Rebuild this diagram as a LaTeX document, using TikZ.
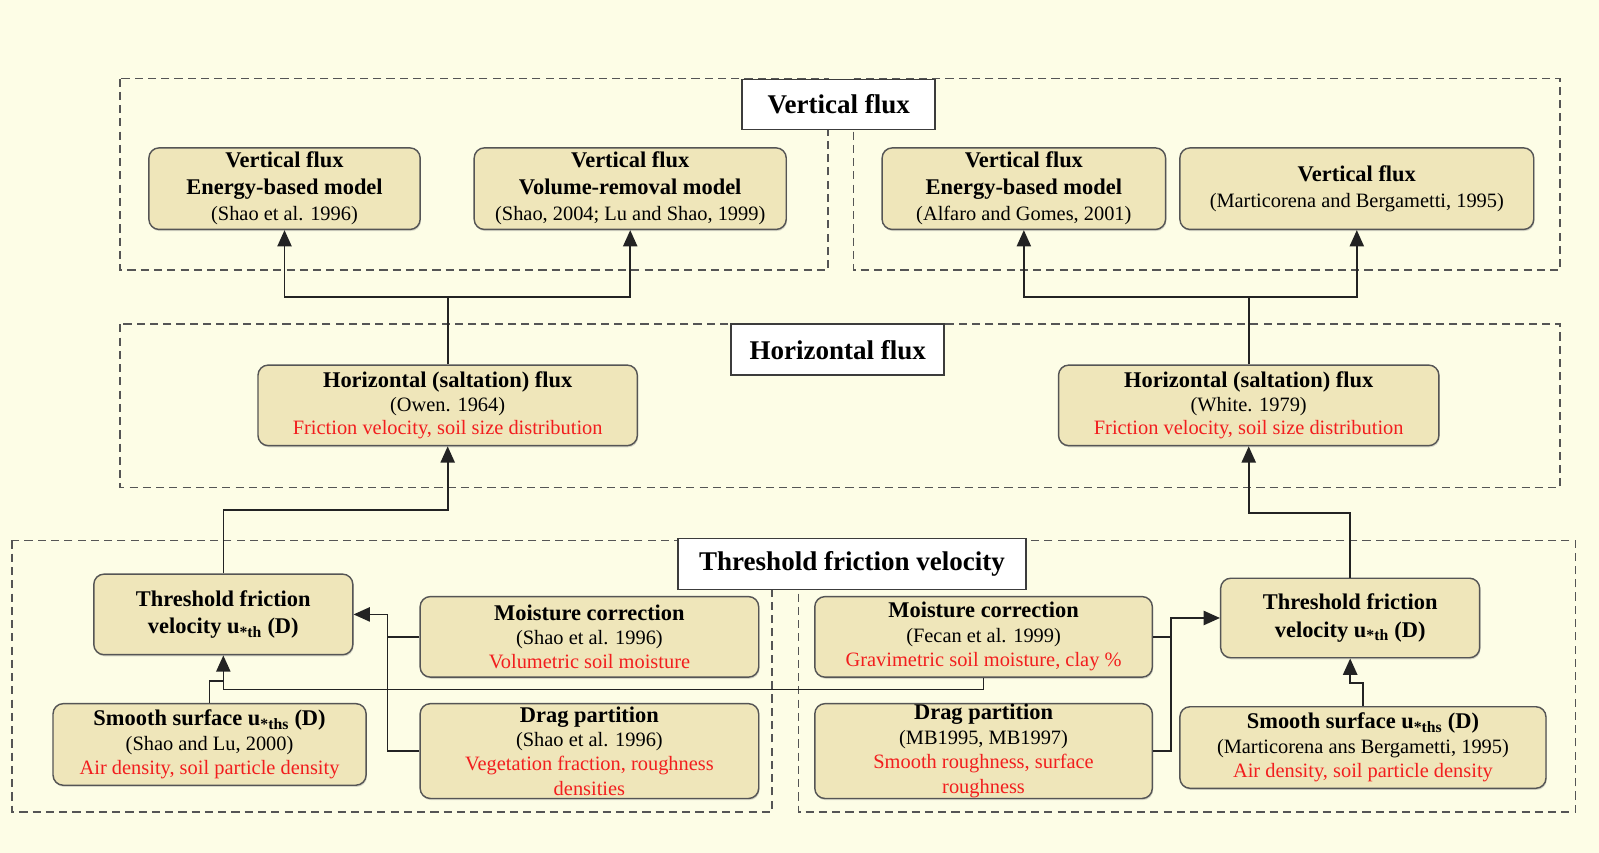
\documentclass[tikz,border=0pt]{standalone}
\usepackage{fontspec}
\setmainfont{Liberation Serif}
\usetikzlibrary{arrows.meta,shadows}

\definecolor{paper}{RGB}{253,253,230}
\definecolor{cardfill}{RGB}{239,230,186}
\definecolor{cardedge}{RGB}{85,85,85}
\definecolor{titleedge}{RGB}{60,60,60}
\definecolor{framecol}{RGB}{85,85,85}
\definecolor{linkcol}{RGB}{35,35,35}
\definecolor{notecol}{RGB}{242,30,30}

% bold heading line and red parameter line inside a card
\newcommand\hdline[1]{{\fontsize{22}{25}\selectfont\bfseries #1}}
\newcommand\noteline[1]{{\color{notecol}#1}}

\begin{document}
\begin{tikzpicture}[x=1pt,y=-1pt,
  frame/.style={draw=framecol, line width=1.8pt, dash pattern=on 8pt off 5pt},
  title/.style={draw=titleedge, fill=white, line width=1.8pt, inner sep=0pt,
    font=\fontsize{26.5}{30}\selectfont\bfseries},
  card/.style={draw=cardedge, fill=cardfill, line width=1.4pt, rounded corners=10pt,
    inner sep=0pt, align=center,
    drop shadow={shadow xshift=0.8pt, shadow yshift=-1.6pt, opacity=0.3}},
  link/.style={draw=linkcol, line width=1.6pt},
  arr/.style={link, -{Triangle[width=14pt,length=16pt]}},
]
% canvas
\fill[paper] (0,0) rectangle (1568,836);
\useasboundingbox (0,0) rectangle (1568,836);

% dashed group frames
\draw[frame] (118,77) rectangle (812,265);
\draw[frame] (837,77) rectangle (1530,265);
\draw[frame] (118,318) rectangle (1530,478);
\draw[frame] (12,530) rectangle (757,796);
\draw[frame] (783,530) rectangle (1545,796);

% group titles
\node[title, minimum width=189pt, minimum height=49pt] (tv) at (822.5,102.5) {Vertical flux};
\node[title, minimum width=209pt, minimum height=50pt] (th) at (821.5,343) {Horizontal flux};
\node[title, minimum width=341pt, minimum height=50pt] (tt) at (835.5,553) {Threshold friction velocity};

% vertical flux schemes
\node[card, minimum width=266pt, minimum height=80pt, font=\fontsize{20}{26}\selectfont] (A1) at (279,185)
  {\hdline{Vertical flux}\\\hdline{Energy-based model}\\(Shao et al. 1996)};
\node[card, minimum width=306pt, minimum height=80pt, font=\fontsize{20}{26}\selectfont] (A2) at (618,185)
  {\hdline{Vertical flux}\\\hdline{Volume-removal model}\\(Shao, 2004; Lu and Shao, 1999)};
\node[card, minimum width=278pt, minimum height=80pt, font=\fontsize{20}{26}\selectfont] (A3) at (1004,185)
  {\hdline{Vertical flux}\\\hdline{Energy-based model}\\(Alfaro and Gomes, 2001)};
\node[card, minimum width=347pt, minimum height=80pt, font=\fontsize{20}{26}\selectfont] (A4) at (1330.5,185)
  {\hdline{Vertical flux}\\(Marticorena and Bergametti, 1995)};

% horizontal flux schemes
\node[card, minimum width=372pt, minimum height=79pt, font=\fontsize{20}{23}\selectfont] (H1) at (439,397.5)
  {\hdline{Horizontal (saltation) flux}\\(Owen. 1964)\\\noteline{Friction velocity, soil size distribution}};
\node[card, minimum width=373pt, minimum height=79pt, font=\fontsize{20}{23}\selectfont] (H2) at (1224.5,397.5)
  {\hdline{Horizontal (saltation) flux}\\(White. 1979)\\\noteline{Friction velocity, soil size distribution}};

% threshold friction velocity, left scheme
\node[card, minimum width=254pt, minimum height=79pt, font=\fontsize{20}{27}\selectfont] (T1) at (219,602.5)
  {\hdline{Threshold friction}\\\hdline{velocity u\textsubscript{*th} (D)}};
\node[card, minimum width=332pt, minimum height=79pt, font=\fontsize{20}{24}\selectfont] (M1) at (578,624.5)
  {\hdline{Moisture correction}\\(Shao et al. 1996)\\\noteline{Volumetric soil moisture}};
\node[card, minimum width=307pt, minimum height=80pt, font=\fontsize{20}{24}\selectfont] (S1) at (205.5,730)
  {\hdline{Smooth surface u\textsubscript{*ths} (D)}\\(Shao and Lu, 2000)\\\noteline{Air density, soil particle density}};
\node[card, minimum width=332pt, minimum height=93pt, font=\fontsize{20}{24}\selectfont] (D1) at (578,736.5)
  {\hdline{Drag partition}\\(Shao et al. 1996)\\\noteline{Vegetation fraction, roughness}\\\noteline{densities}};

% threshold friction velocity, right scheme
\node[card, minimum width=331pt, minimum height=79pt, font=\fontsize{20}{24}\selectfont] (M2) at (964.5,624.5)
  {\hdline{Moisture correction}\\(Fecan et al. 1999)\\\noteline{Gravimetric soil moisture, clay \%}};
\node[card, minimum width=331pt, minimum height=93pt, font=\fontsize{20}{24}\selectfont] (D2) at (964.5,736.5)
  {\hdline{Drag partition}\\(MB1995, MB1997)\\\noteline{Smooth roughness, surface}\\\noteline{roughness}};
\node[card, minimum width=254pt, minimum height=78pt, font=\fontsize{20}{27}\selectfont] (T2) at (1324,606)
  {\hdline{Threshold friction}\\\hdline{velocity u\textsubscript{*th} (D)}};
\node[card, minimum width=359pt, minimum height=80pt, font=\fontsize{20}{24}\selectfont] (S2) at (1336.5,733)
  {\hdline{Smooth surface u\textsubscript{*ths} (D)}\\(Marticorena ans Bergametti, 1995)\\\noteline{Air density, soil particle density}};

% junction points of the connectors
\coordinate (j1) at (439,291);
\coordinate (j2) at (1224.5,291);
\coordinate (k1) at (439,500);
\coordinate (k2) at (1224.5,503);
\coordinate (b1) at (380,602.5);
\coordinate (b2) at (1148,606);
\coordinate (c1) at (219,668);
\coordinate (c2) at (219,676);
\coordinate (c3) at (1324,670);

% horizontal flux -> vertical flux
\draw[link] (H1.north) -- (j1);
\draw[arr] (j1) -| (A1.south);
\draw[arr] (j1) -| (A2.south);
\draw[link] (H2.north) -- (j2);
\draw[arr] (j2) -| (A3.south);
\draw[arr] (j2) -| (A4.south);

% threshold -> horizontal flux
\draw[arr] (T1.north) |- (k1) -- (H1.south);
\draw[arr] (T2.north) |- (k2) -- (H2.south);

% corrections -> threshold, left
\draw[arr] (M1.west) -| (b1) -- (T1.east);
\draw[link] (D1.west) -| (b1);
\draw[arr] (M2.south) |- (c2) -- (T1.south);
\draw[link] (S1.north) |- (c1);

% corrections -> threshold, right
\draw[arr] (M2.east) -| (b2) -- (T2.west);
\draw[link] (D2.east) -| (b2);
\draw[arr] (S2.north) |- (c3) -- (T2.south);
\end{tikzpicture}
\end{document}
